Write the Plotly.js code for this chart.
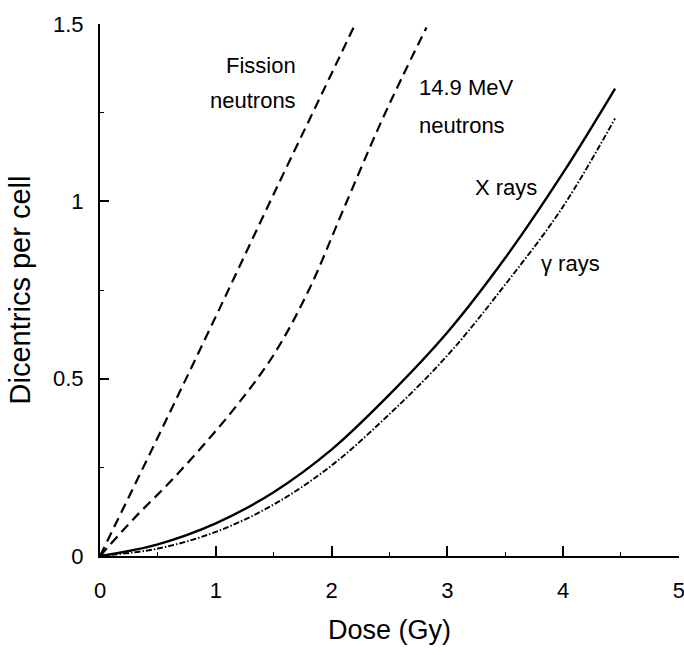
<!DOCTYPE html>
<html>
<head>
<meta charset="utf-8">
<script src="https://cdn.plot.ly/plotly-3.0.1.min.js"></script>
<style>html,body{margin:0;padding:0;background:#fff;}#chart{width:684px;height:655px;}</style>
</head>
<body>
<div id="chart"></div>
<script>
// Dose (Gy) and dicentrics per cell
const fissionDose = [0, 0.5, 1.0, 1.5, 2.0, 2.19];
const fissionYield = [0, 0.335, 0.675, 1.02, 1.36, 1.49];

const mev149Dose = [0, 0.3, 0.6, 0.9, 1.2, 1.5, 1.8, 2.1, 2.4, 2.6, 2.82];
const mev149Yield = [0, 0.108, 0.207, 0.315, 0.432, 0.567, 0.747, 0.975, 1.203, 1.343, 1.49];

const xrayDose = [0, 0.5, 1.0, 1.5, 2.0, 2.5, 3.0, 3.5, 4.0, 4.45];
const xrayYield = [0, 0.033, 0.092, 0.18, 0.30, 0.455, 0.63, 0.84, 1.08, 1.318];

const gammaDose = [0, 0.5, 1.0, 1.5, 2.0, 2.5, 3.0, 3.5, 4.0, 4.45];
const gammaYield = [0, 0.021, 0.068, 0.145, 0.255, 0.40, 0.565, 0.765, 0.985, 1.234];

const xTickVals = [0, 1, 2, 3, 4, 5];
const xTickText = ["0", "1", "2", "3", "4", "5"];
const yTickVals = [0, 0.5, 1, 1.5];
const yTickText = ["0", "0.5", "1", "1.5"];

const FONT = "'Liberation Sans', Arial, Helvetica, sans-serif";

function line(x, y, name, dash, width) {
  return {
    x: x, y: y, name: name, type: "scatter", mode: "lines",
    line: {color: "#000", width: width, dash: dash, shape: "spline", smoothing: 1},
    hoverinfo: "x+y+name"
  };
}

const data = [
  line(fissionDose, fissionYield, "Fission neutrons", "10px,6px", 2.2),
  line(mev149Dose, mev149Yield, "14.9 MeV neutrons", "10px,6px", 2.2),
  line(xrayDose, xrayYield, "X rays", "solid", 2.4),
  line(gammaDose, gammaYield, "γ rays", "6px,2px,1.5px,2px", 1.9)
];

function ann(x, y, text, xanchor) {
  return {x: x, y: y, xref: "x", yref: "y", text: text, showarrow: false,
          xanchor: xanchor, yanchor: "middle", font: {family: FONT, size: 22, color: "#000"}};
}

const layout = {
  width: 684, height: 655,
  margin: {l: 100, r: 5, t: 24, b: 99},
  paper_bgcolor: "#fff", plot_bgcolor: "#fff",
  showlegend: false,
  font: {family: FONT, color: "#000"},
  xaxis: {
    range: [0, 5.002], tickvals: xTickVals, ticktext: xTickText,
    showgrid: false, zeroline: false,
    showline: true, linecolor: "#000", linewidth: 2,
    ticks: "inside", ticklen: 10, tickwidth: 2, tickcolor: "#000",
    minor: {dtick: 0.5, ticks: "inside", ticklen: 4, tickwidth: 1, tickcolor: "#000", showgrid: false},
    ticklabelstandoff: 14,
    ticklabeloverflow: "allow",
    tickfont: {family: FONT, size: 22, color: "#000"},
    title: {text: "Dose (Gy)", font: {family: FONT, size: 27, color: "#000"}, standoff: 18}
  },
  yaxis: {
    range: [0, 1.5], tickvals: yTickVals, ticktext: yTickText,
    showgrid: false, zeroline: false,
    showline: true, linecolor: "#000", linewidth: 2,
    ticks: "inside", ticklen: 9, tickwidth: 2, tickcolor: "#000",
    minor: {dtick: 0.25, ticks: "inside", ticklen: 4, tickwidth: 1, tickcolor: "#000", showgrid: false},
    ticklabelstandoff: 10,
    tickfont: {family: FONT, size: 22, color: "#000"},
    title: {text: "Dicentrics per cell", font: {family: FONT, size: 29, color: "#000"}, standoff: 14}
  },
  annotations: [
    ann(1.71, 1.382, "Fission", "right"),
    ann(1.71, 1.283, "neutrons", "right"),
    ann(2.74, 1.322, "14.9 MeV", "left"),
    ann(2.74, 1.215, "neutrons", "left"),
    ann(3.22, 1.040, "X rays", "left"),
    ann(3.79, 0.826, "γ rays", "left")
  ]
};

Plotly.newPlot("chart", data, layout, {displayModeBar: false});
</script>
</body>
</html>
